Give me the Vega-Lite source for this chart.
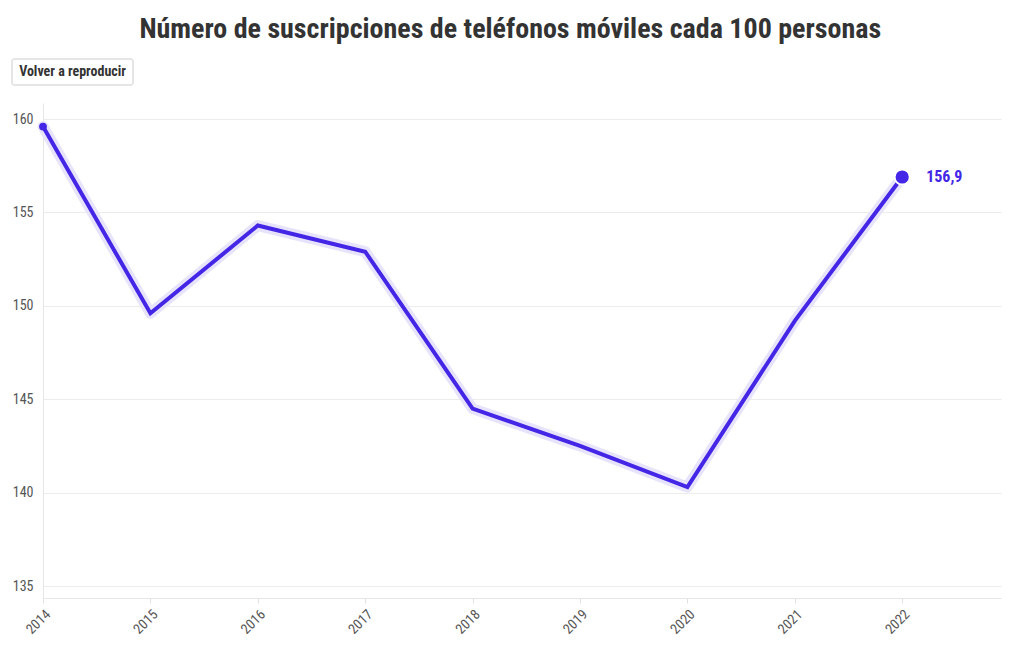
{
  "$schema": "https://vega.github.io/schema/vega-lite/v6.json",
  "padding": {"left": 11, "top": 15, "right": 15, "bottom": 5},
  "title": {
    "text": "Número de suscripciones de teléfonos móviles cada 100 personas",
    "fontSize": 28,
    "fontWeight": "bold",
    "color": "#333333",
    "anchor": "middle",
    "offset": 15,
    "dx": 4,
    "font": "Roboto Condensed, Liberation Sans Narrow, DejaVu Sans Condensed, Roboto, sans-serif"
  },
  "config": {
    "font": "Roboto Condensed, Liberation Sans Narrow, DejaVu Sans Condensed, Roboto, sans-serif",
    "view": {"stroke": null},
    "concat": {"spacing": 17},
    "locale": {"number": {"decimal": ",", "thousands": ".", "grouping": [3], "currency": ["", " €"]}}
  },
  "vconcat": [
    {
      "width": 90,
      "height": 26,
      "data": {"values": [{"label": "Volver a reproducir", "left": -31, "right": 90, "center": 29.5, "bottom": 0, "top": 26, "middle": 13}]},
      "encoding": {
        "x": {"field": "left", "type": "quantitative", "scale": {"domain": [0, 90], "nice": false, "zero": false}, "axis": null},
        "y": {"field": "bottom", "type": "quantitative", "scale": {"domain": [0, 26], "nice": false, "zero": false}, "axis": null}
      },
      "layer": [
        {
          "mark": {"type": "rect", "fill": "#ffffff", "stroke": "#cccccc", "strokeWidth": 1, "cornerRadius": 2},
          "encoding": {"x2": {"field": "right"}, "y2": {"field": "top"}}
        },
        {
          "mark": {"type": "text", "fontWeight": "bold", "fontSize": 14, "color": "#333333"},
          "encoding": {
            "x": {"field": "center", "type": "quantitative"},
            "y": {"field": "middle", "type": "quantitative"},
            "text": {"field": "label", "type": "nominal"}
          }
        }
      ]
    },
    {
      "width": 958,
      "height": 495,
      "data": {
        "values": [
          {"year": 2014, "value": 159.6},
          {"year": 2015, "value": 149.6},
          {"year": 2016, "value": 154.3},
          {"year": 2017, "value": 152.9},
          {"year": 2018, "value": 144.5},
          {"year": 2019, "value": 142.5},
          {"year": 2020, "value": 140.3},
          {"year": 2021, "value": 149.2},
          {"year": 2022, "value": 156.9}
        ]
      },
      "encoding": {
        "x": {
          "field": "year",
          "type": "quantitative",
          "scale": {"domain": [2014, 2022.92], "nice": false, "zero": false},
          "axis": {
            "values": [2014, 2015, 2016, 2017, 2018, 2019, 2020, 2021, 2022],
            "format": "d",
            "title": null,
            "grid": false,
            "labelAngle": -45,
            "labelAlign": "right",
            "labelBaseline": "top",
            "labelFontSize": 14,
            "labelColor": "#555555",
            "domainColor": "#e6e6e6",
            "tickColor": "#e0e0e0",
            "tickSize": 5,
            "labelPadding": 4
          }
        },
        "y": {
          "field": "value",
          "type": "quantitative",
          "scale": {"domain": [134.36, 160.86], "nice": false, "zero": false},
          "axis": {
            "values": [135, 140, 145, 150, 155, 160],
            "title": null,
            "ticks": false,
            "labelPadding": 10,
            "labelFontSize": 14,
            "labelColor": "#555555",
            "gridColor": "#ececec",
            "domainColor": "#e6e6e6",
            "minExtent": 31,
            "maxExtent": 31
          }
        }
      },
      "layer": [
        {"mark": {"type": "line", "strokeWidth": 11, "color": "#e7e3fb", "strokeJoin": "round", "strokeCap": "round"}},
        {"mark": {"type": "line", "strokeWidth": 4, "color": "#4326e6", "strokeJoin": "miter"}},
        {
          "transform": [{"filter": "datum.year == 2014"}],
          "mark": {"type": "point", "filled": true, "size": 60, "color": "#4326e6", "opacity": 1}
        },
        {
          "transform": [{"filter": "datum.year == 2022"}],
          "mark": {"type": "point", "filled": true, "size": 230, "color": "#4326e6", "stroke": "#ffffff", "strokeWidth": 2, "opacity": 1}
        },
        {
          "transform": [{"filter": "datum.year == 2022"}],
          "mark": {"type": "text", "align": "left", "dx": 24, "fontSize": 16, "fontWeight": "bold", "color": "#4326e6"},
          "encoding": {"text": {"field": "value", "type": "quantitative", "format": ".1f"}}
        }
      ]
    }
  ]
}
